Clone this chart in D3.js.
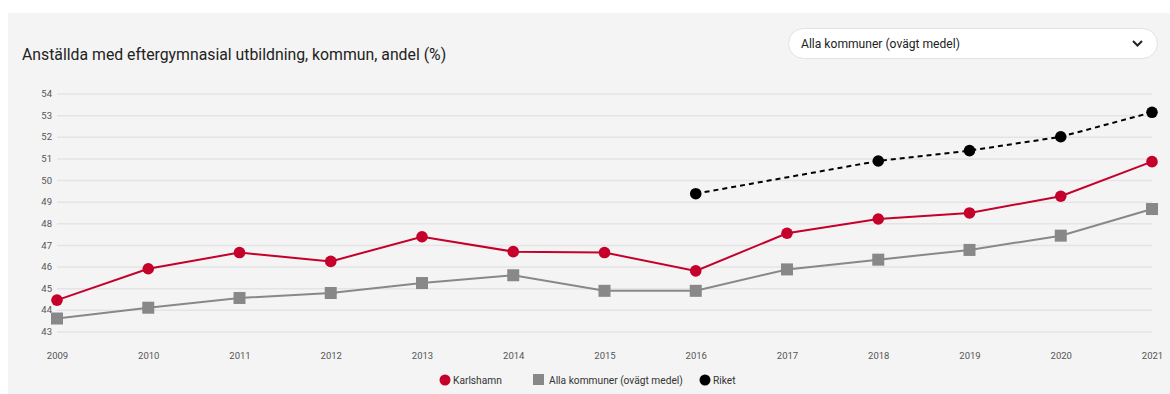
<!DOCTYPE html>
<html><head><meta charset="utf-8">
<script src="https://cdn.jsdelivr.net/npm/d3@7/dist/d3.min.js"></script>
<style>
html,body{margin:0;padding:0;background:#fff;}
svg{display:block;font-family:Roboto,"Noto Sans",sans-serif;}
</style></head>
<body>
<svg id="c" width="1170" height="394"></svg>
<script>
const years = [2009,2010,2011,2012,2013,2014,2015,2016,2017,2018,2019,2020,2021];
const karlshamn = [44.45,45.9,46.65,46.24,47.38,46.69,46.65,45.8,47.54,48.2,48.48,49.25,50.85];
const allaKommuner = [43.6,44.1,44.55,44.78,45.24,45.6,44.88,44.88,45.87,46.32,46.77,47.43,48.66];
const riketYears = [2016,2018,2019,2020,2021];
const riket = [49.37,50.88,51.36,52.0,53.13];
const yTicks = [43,44,45,46,47,48,49,50,51,52,53,54];
const title = "Anställda med eftergymnasial utbildning, kommun, andel (%)";
const dropdownLabel = "Alla kommuner (ovägt medel)";
const legendLabels = ["Karlshamn","Alla kommuner (ovägt medel)","Riket"];

const svg = d3.select("#c");
svg.append("rect").attr("x",8).attr("y",13).attr("width",1162).attr("height",381).attr("fill","#f4f4f4");

svg.append("text").attr("x",22).attr("y",60).attr("font-size",15.8).attr("fill","#222").text(title);

// dropdown
svg.append("rect").attr("x",788.5).attr("y",28.5).attr("width",369).attr("height",30).attr("rx",15)
  .attr("fill","#fff").attr("stroke","#e2e2e2");
svg.append("text").attr("x",801).attr("y",48).attr("font-size",12.1).attr("fill","#222").text(dropdownLabel);
svg.append("path").attr("d","M1133,41 L1137.5,45.5 L1142,41").attr("fill","none").attr("stroke","#222").attr("stroke-width",2);

const x = d3.scaleLinear().domain([2009,2021]).range([57,1152]);
const y = d3.scaleLinear().domain([43,54]).range([331.5,93.5]);

// grid
const yAxis = d3.axisLeft(y).tickValues(yTicks).tickSize(-(1152-57)).tickFormat(d3.format("d")).tickPadding(5);
const gy = svg.append("g").attr("transform","translate(57,0)").call(yAxis);
gy.select(".domain").remove();
gy.selectAll(".tick line").attr("stroke","#e4e4e4").attr("stroke-width",1.5);
gy.selectAll(".tick text").attr("font-size",9.5).attr("fill","#555").attr("font-family","Roboto,sans-serif");

const xAxis = d3.axisBottom(x).tickValues(years).tickFormat(d3.format("d")).tickSize(0).tickPadding(0);
const gx = svg.append("g").attr("transform","translate(0,352)").call(xAxis);
gx.select(".domain").remove();
gx.selectAll(".tick text").attr("font-size",9.5).attr("fill","#555").attr("font-family","Roboto,sans-serif");

const line = d3.line().x(d=>x(d[0])).y(d=>y(d[1]));
const red = "#c4002b", gray = "#888888";

const gData = years.map((yr,i)=>[yr,allaKommuner[i]]);
const kData = years.map((yr,i)=>[yr,karlshamn[i]]);
const rData = riketYears.map((yr,i)=>[yr,riket[i]]);

svg.append("path").attr("d",line(gData)).attr("fill","none").attr("stroke",gray).attr("stroke-width",2);
svg.selectAll(".sq").data(gData).enter().append("rect")
  .attr("x",d=>x(d[0])-6).attr("y",d=>y(d[1])-6).attr("width",12).attr("height",12).attr("fill",gray);

svg.append("path").attr("d",line(kData)).attr("fill","none").attr("stroke",red).attr("stroke-width",2);
svg.selectAll(".kc").data(kData).enter().append("circle")
  .attr("cx",d=>x(d[0])).attr("cy",d=>y(d[1])).attr("r",5.8).attr("fill",red);

svg.append("path").attr("d",line(rData)).attr("fill","none").attr("stroke","#000").attr("stroke-width",2).attr("stroke-dasharray","5,4");
svg.selectAll(".rc").data(rData).enter().append("circle")
  .attr("cx",d=>x(d[0])).attr("cy",d=>y(d[1])).attr("r",5.8).attr("fill","#000");

// legend
const lg = svg.append("g").attr("font-size",10.2).attr("fill","#333");
lg.append("circle").attr("cx",445).attr("cy",380).attr("r",5.5).attr("fill",red);
lg.append("text").attr("x",453).attr("y",384).text(legendLabels[0]);
lg.append("rect").attr("x",533).attr("y",374).attr("width",11).attr("height",11).attr("fill",gray);
lg.append("text").attr("x",549).attr("y",384).text(legendLabels[1]);
lg.append("circle").attr("cx",705).attr("cy",380).attr("r",5.5).attr("fill","#000");
lg.append("text").attr("x",713).attr("y",384).text(legendLabels[2]);
</script>
</body></html>
